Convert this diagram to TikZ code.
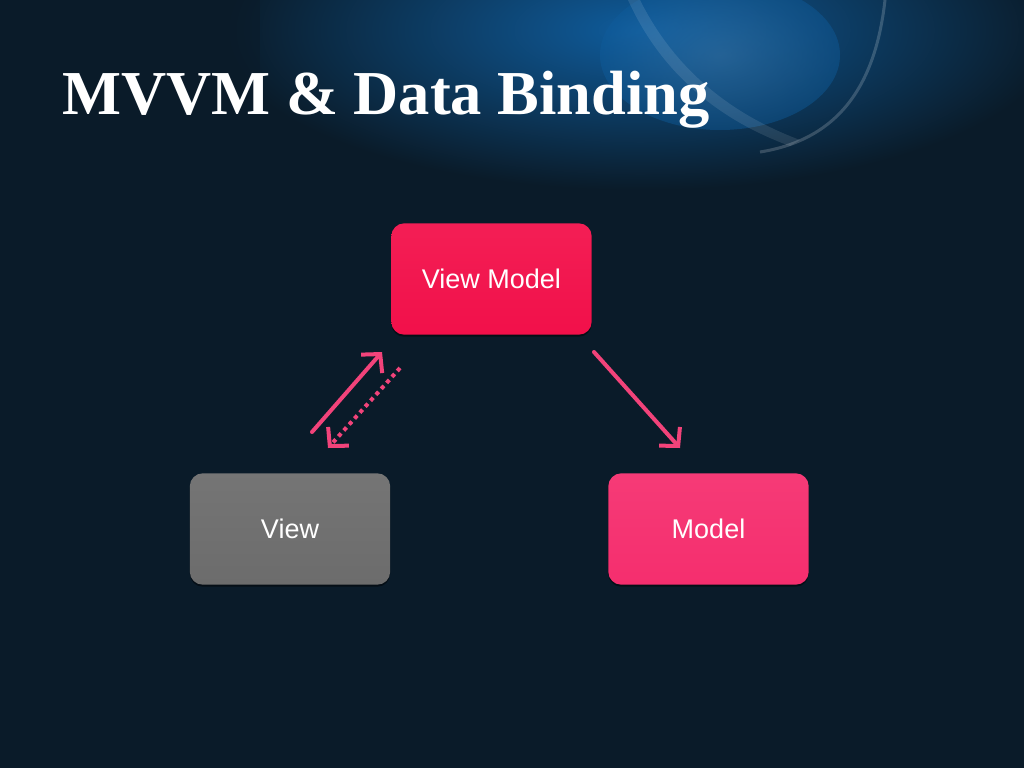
\documentclass[tikz,border=0pt]{standalone}
\usepackage{fontspec}
\setmainfont{Liberation Serif}
\newfontfamily\arialf{Liberation Sans}
\usetikzlibrary{arrows.meta,backgrounds}
\definecolor{bgdark}{HTML}{0A1B29}
\definecolor{bgblue}{HTML}{0F5C9C}
\definecolor{vmred}{HTML}{F2104A}
\definecolor{mpink}{HTML}{F52E6E}
\definecolor{vgray}{HTML}{6C6C6C}
\definecolor{arrowpink}{HTML}{F2437A}
\tikzset{
  box/.style={rectangle, minimum width=200pt, minimum height=111pt,
    font=\arialf\fontsize{27}{30}\selectfont, text=white, inner sep=0pt},
  boxfill/.style={rounded corners=13pt},
  conn/.style={draw=arrowpink, line width=4pt, line cap=round,
    -{Straight Barb[length=13pt,width=28pt,line width=4pt]}},
  dotconn/.style={conn, line cap=butt, dash pattern=on 4pt off 4pt}
}
\begin{document}
\begin{tikzpicture}[x=1pt,y=1pt]
\useasboundingbox (0,-768) rectangle (1024,0);
% boxes (text), fills drawn on background layer
\node[box] (vm) at (491.5,-279) {View Model};
\node[box] (v) at (290,-529) {View};
\node[box] (m) at (708.5,-529) {Model};
\begin{pgfonlayer}{background}
\fill[bgdark] (0,-768) rectangle (1024,0);
\begin{scope}
\clip (0,-768) rectangle (1024,0);
\shade[inner color=bgblue, outer color=bgdark] (640,-30) ellipse [x radius=420, y radius=160];
\shade[inner color=bgblue!80!white, outer color=bgblue, opacity=0.45] (720,-55) ellipse [x radius=120, y radius=75];
\fill[white, opacity=0.10] (640,0) .. controls (670,-60) and (720,-110) .. (800,-140)
  -- (790,-146) .. controls (705,-115) and (655,-60) .. (628,0) -- cycle;
\draw[white, opacity=0.18, line width=3pt] (885,0) .. controls (875,-90) and (835,-140) .. (760,-152);
\fill[bgdark, opacity=0.55] (0,-180) rectangle (260,0);
\end{scope}
\foreach \n/\c in {vm/vmred, v/vgray, m/mpink}{
  \fill[black, opacity=0.45, boxfill] ([yshift=-2pt]\n.south west) rectangle ([yshift=-2pt]\n.north east);
  \shade[boxfill, top color=\c!94!white, bottom color=\c] (\n.south west) rectangle (\n.north east);
}
\end{pgfonlayer}
% title
\node[anchor=base west, text=white, inner sep=0pt, font=\bfseries\fontsize{62.5}{66}\selectfont]
  (title) at (62,-114) {MVVM \& Data Binding};
% connectors
\coordinate (a1s) at (312,-432);
\coordinate (a1e) at (382,-352);
\coordinate (a2s) at (400,-368);
\coordinate (a2e) at (328,-448);
\coordinate (a3s) at (594,-352);
\coordinate (a3e) at (680,-448);
\draw[conn] (a1s) -- (a1e);
\draw[dotconn] (a2s) -- (a2e);
\draw[conn] (a3s) -- (a3e);
\end{tikzpicture}
\end{document}
